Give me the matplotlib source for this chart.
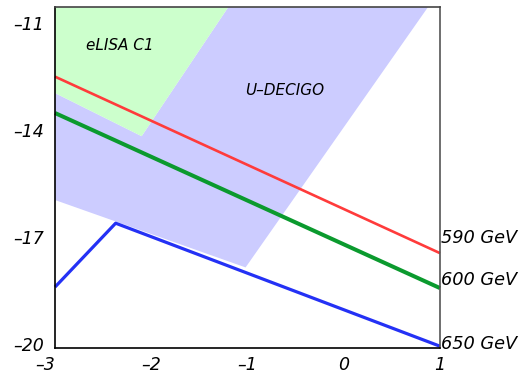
import matplotlib.pyplot as plt
from matplotlib.patches import Polygon

# sensitivity regions (log f, log Omega)
elisa_x = [-3.0, -1.20, -2.10, -3.0]
elisa_y = [-10.55, -10.55, -14.17, -12.96]
decigo_x = [-3.0, -2.10, -1.20, 0.875, -1.02, -3.0]
decigo_y = [-12.96, -14.17, -10.55, -10.55, -17.85, -15.96]

# signal curves
red_x = [-3.0, 1.0]
red_y = [-12.5, -17.45]
green_x = [-3.0, 1.0]
green_y = [-13.52, -18.43]
blue_x = [-3.0, -2.37, 1.0]
blue_y = [-18.4, -16.61, -20.06]

labels = ['590 GeV', '600 GeV', '650 GeV']
label_y = [-17.03, -18.2, -20.0]

fig = plt.figure(figsize=(5.26, 3.75), dpi=100)
ax = fig.add_axes([0.1046, 0.072, 0.7319, 0.909])

ax.add_patch(Polygon(list(zip(decigo_x, decigo_y)), closed=True, facecolor='#ccccff', edgecolor='none'))
ax.add_patch(Polygon(list(zip(elisa_x, elisa_y)), closed=True, facecolor='#ccffcc', edgecolor='none'))

ax.plot(red_x, red_y, color='#ff3b3b', lw=1.9, clip_on=False, solid_capstyle='butt')
ax.plot(green_x, green_y, color='#0b9a2e', lw=2.9, clip_on=False, solid_capstyle='butt')
ax.plot(blue_x, blue_y, color='#2431f5', lw=2.3, clip_on=False, solid_capstyle='butt')

fnt = dict(family='DejaVu Sans', style='italic')
ax.text(-2.325, -11.62, 'eLISA C1', ha='center', va='center', fontsize=11, **fnt)
ax.text(-0.61, -12.88, 'U\u2013DECIGO', ha='center', va='center', fontsize=11, **fnt)
for lab, yy in zip(labels, label_y):
    ax.text(1.01, yy, lab, ha='left', va='center', fontsize=12.8, clip_on=False, **fnt)

ax.set_xlim(-3, 1)
ax.set_ylim(-20.11, -10.55)
ax.set_xticks([-3, -2, -1, 0, 1])
ax.set_xticklabels(['\u20133', '\u20132', '\u20131', '0', '1'])
ax.set_yticks([-20, -17, -14, -11])
ax.set_yticklabels(['\u201320', '\u201317', '\u201314', '\u201311'])
ax.tick_params(length=0, labelsize=12.5)
ax.tick_params(axis='x', pad=6)
ax.tick_params(axis='y', pad=8)
for t in ax.get_xticklabels() + ax.get_yticklabels():
    t.set_fontstyle('italic')
ax.get_xticklabels()[0].set_horizontalalignment('right')

ax.spines['left'].set_color('black')
ax.spines['bottom'].set_color('black')
ax.spines['top'].set_color('#444444')
ax.spines['right'].set_color('#555555')
for s in ax.spines.values():
    s.set_linewidth(1.2)

fig.savefig('out.png', dpi=100)
